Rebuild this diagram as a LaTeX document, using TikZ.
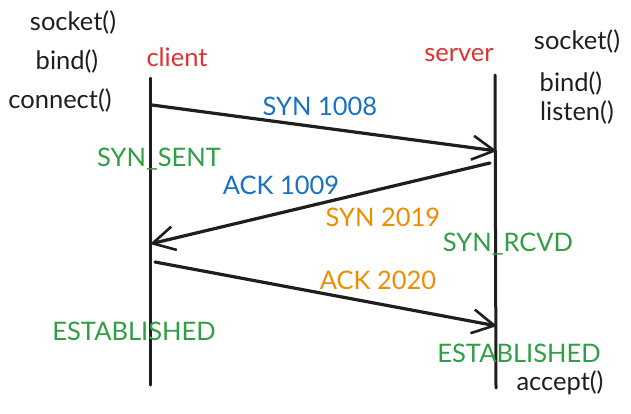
\documentclass[tikz,border=0pt]{standalone}
\usepackage{fontspec}
\setmainfont{Lato}
\usetikzlibrary{arrows.meta}
\definecolor{ink}{HTML}{1E1E1E}
\definecolor{xred}{HTML}{E03131}
\definecolor{xblue}{HTML}{1971C2}
\definecolor{xgreen}{HTML}{2F9E44}
\definecolor{xorange}{HTML}{F08C00}
\begin{document}
\begin{tikzpicture}[x=1pt,y=-1pt,
  lbl/.style={font=\fontsize{25.5}{28}\selectfont, inner sep=0pt, text=ink},
  life/.style={draw=ink, line width=3pt, line cap=round},
  msg/.style={draw=ink, line width=3.2pt, line cap=round, -{Straight Barb[length=22pt,width=24pt,line width=2.6pt]}}]
\useasboundingbox (0,0) rectangle (631,413);
% lifelines
\coordinate (c1) at (150,78);
\coordinate (c2) at (150,385);
\coordinate (s1) at (495,75);
\coordinate (s2) at (496,388);
\draw[life] (c1) -- (c2);
\draw[life] (s1) -- (s2);
% headers
\node[lbl, text=xred] (client) at (177,57) {client};
\node[lbl, text=xred] (server) at (459,55) {server};
% left calls
\node[lbl] (sock1) at (73,22) {socket()};
\node[lbl] (bind1) at (67,61) {bind()};
\node[lbl] (conn) at (60,100) {connect()};
% right calls
\node[lbl] (sock2) at (577,41) {socket()};
\node[lbl] (bind2) at (571,83) {bind()};
\node[lbl] (listen) at (577,112) {listen()};
\node[lbl] (accept) at (560,383) {accept()};
% messages
\coordinate (a1s) at (152,105);
\coordinate (a1e) at (497,151);
\draw[msg] (a1s) -- (a1e);
\node[lbl, text=xblue] (syn1) at (320,106) {SYN 1008};
\coordinate (a2s) at (490,163);
\coordinate (a2e) at (150,244);
\draw[msg] (a2s) -- (a2e);
\node[lbl, text=xblue] (ack1) at (281,185) {ACK 1009};
\node[lbl, text=xorange] (syn2) at (383,217) {SYN 2019};
\coordinate (a3s) at (155,262);
\coordinate (a3e) at (497,326);
\draw[msg] (a3s) -- (a3e);
\node[lbl, text=xorange] (ack2) at (378,280) {ACK 2020};
% states
\node[lbl, text=xgreen] (sent) at (159,159) {SYN\_SENT};
\node[lbl, text=xgreen] (rcvd) at (508,244) {SYN\_RCVD};
\node[lbl, text=xgreen] (est1) at (134,331) {ESTABLISHED};
\node[lbl, text=xgreen] (est2) at (519,353) {ESTABLISHED};
\end{tikzpicture}
\end{document}
